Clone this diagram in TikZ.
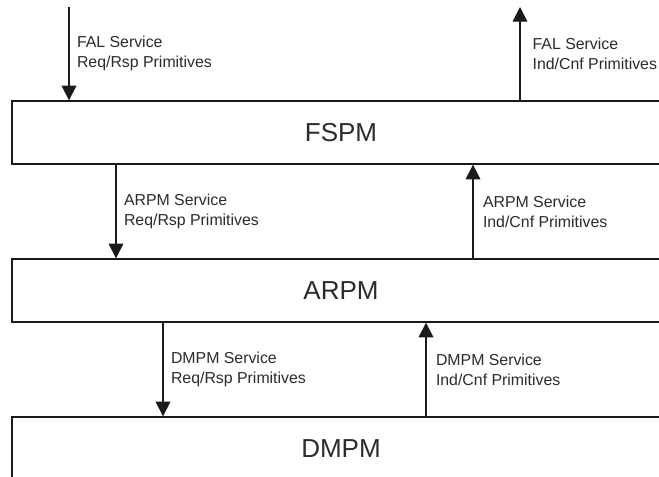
\documentclass[tikz,border=0pt]{standalone}
\usepackage{fontspec}
\setmainfont{Liberation Sans}
\definecolor{lnDark}{HTML}{1A1A1A}
\definecolor{txDark}{HTML}{2B2B2B}
\usetikzlibrary{arrows.meta}

\begin{document}
\begin{tikzpicture}[x=0.75pt, y=-0.75pt,
  layer/.style={draw=lnDark, line width=1pt, minimum width=493.5pt,
    minimum height=47.25pt, inner sep=0pt, text=txDark,
    font=\fontsize{19.5}{22}\selectfont},
  prim/.style={font=\fontsize{11.9}{15}\selectfont, text=txDark,
    align=left, anchor=west, inner sep=0pt},
  arr/.style={-{Triangle[width=11pt,length=11pt]}, line width=1pt, draw=lnDark}
]
  \path[use as bounding box, clip] (0,0) rectangle (659,476);
  % Layers
  \node[layer] (fspm) at (341,132.5) {FSPM};
  \node[layer] (arpm) at (341,290.5) {ARPM};
  \node[layer] (dmpm) at (341,448.5) {DMPM};
  % FAL primitives (free ends above FSPM)
  \coordinate (falreq) at (69,7);
  \coordinate (falind) at (520,7);
  \draw[arr] (falreq) -- (falreq |- fspm.north)
    node[prim, midway, xshift=5.5pt] (falreqlbl) {FAL Service\\Req/Rsp Primitives};
  \draw[arr] (falind |- fspm.north) -- (falind)
    node[prim, midway, xshift=9pt] (falindlbl) {FAL Service\\Ind/Cnf Primitives};
  % Primitives between layers
  \foreach \hi/\lo/\svc/\dx/\ux in {fspm/arpm/ARPM/116/473, arpm/dmpm/DMPM/163/426} {
    \coordinate (\lo req) at (\dx,0);
    \coordinate (\lo ind) at (\ux,0);
    \draw[arr] (\hi.south -| \lo req) -- (\lo.north -| \lo req)
      node[prim, midway, xshift=5.5pt] (\lo reqlbl) {\svc\ Service\\Req/Rsp Primitives};
    \draw[arr] (\lo.north -| \lo ind) -- (\hi.south -| \lo ind)
      node[prim, midway, xshift=7pt] (\lo indlbl) {\svc\ Service\\Ind/Cnf Primitives};
  }
\end{tikzpicture}
\end{document}
